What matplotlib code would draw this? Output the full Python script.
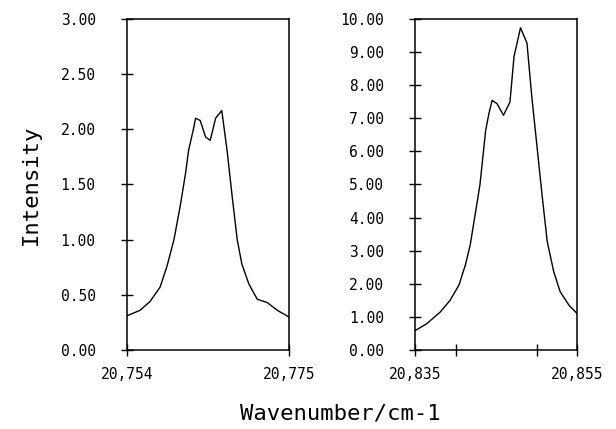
"""
Two-panel intensity spectra (recreation of a scanned plot).
"""

import matplotlib
matplotlib.use("Agg")
import matplotlib.pyplot as plt

matplotlib.rcParams['font.family'] = ['DejaVu Sans Mono']
matplotlib.rcParams['font.size'] = 10.5

# left band
wave_left = [20754.0, 20755.7, 20757.0, 20758.3, 20759.2, 20760.1, 20760.9,
             20761.6, 20762.0, 20762.65, 20762.9, 20763.5, 20764.2, 20764.8,
             20765.5, 20766.3, 20767.0, 20767.6, 20768.3, 20768.9, 20769.8,
             20770.9, 20772.2, 20773.5, 20775.0]
int_left = [0.31, 0.36, 0.44, 0.57, 0.76, 1.00, 1.30,
            1.60, 1.81, 2.01, 2.10, 2.08, 1.93, 1.90,
            2.10, 2.17, 1.80, 1.42, 1.00, 0.78, 0.60,
            0.46, 0.43, 0.36, 0.30]

# right band
wave_right = [20835.0, 20836.4, 20838.1, 20839.3, 20840.4, 20841.2, 20841.8,
              20842.4, 20843.0, 20843.7, 20844.1, 20844.5, 20845.1, 20845.9,
              20846.7, 20847.2, 20848.0, 20848.8, 20849.4, 20850.05, 20850.7,
              20851.3, 20852.1, 20852.9, 20854.0, 20855.0]
int_right = [0.59, 0.79, 1.15, 1.50, 1.96, 2.57, 3.18,
             4.09, 5.00, 6.63, 7.14, 7.54, 7.44, 7.09,
             7.49, 8.86, 9.73, 9.27, 7.64, 6.12, 4.60,
             3.28, 2.37, 1.76, 1.35, 1.10]

left_yticks = [0, 0.5, 1.0, 1.5, 2.0, 2.5, 3.0]
right_yticks = [0, 1, 2, 3, 4, 5, 6, 7, 8, 9, 10]
left_xticks = [20754, 20775]
left_xlabels = ["20,754", "20,775"]
right_xticks = [20835, 20840, 20850, 20855]
right_xlabels = ["20,835", "", "", "20,855"]

fig = plt.figure(figsize=(6.16, 4.29), dpi=100)
ax1 = fig.add_axes([0.206, 0.184, 0.263, 0.772])
ax2 = fig.add_axes([0.674, 0.184, 0.263, 0.772])

panels = [
    (ax1, wave_left, int_left, left_yticks, left_xticks, left_xlabels, (0, 3.0)),
    (ax2, wave_right, int_right, right_yticks, right_xticks, right_xlabels, (0, 10.0)),
]

for ax, x, y, yt, xt, xl, ylim in panels:
    ax.plot(x, y, color="black", linewidth=1.0)
    ax.set_xlim(xt[0], xt[-1])
    ax.set_ylim(*ylim)
    ax.set_yticks(yt)
    ax.set_yticklabels([f"{v:.2f}" for v in yt])
    ax.set_xticks(xt)
    ax.set_xticklabels(xl)
    ax.tick_params(direction="inout", length=9, width=1.0, colors="black")
    ax.tick_params(axis="y", pad=18)
    ax.tick_params(axis="x", pad=8)
    for s in ax.spines.values():
        s.set_linewidth(1.1)

ax1.set_ylabel("Intensity", fontsize=16, labelpad=14)
fig.text(0.552, 0.035, "Wavenumber/cm-1", fontsize=16, ha="center", va="center")

fig.savefig("out.png", dpi=100)
